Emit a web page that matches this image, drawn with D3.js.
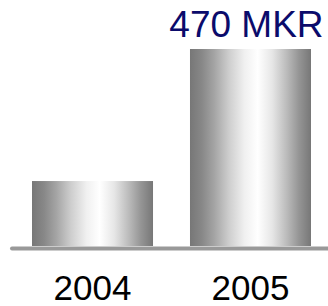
<!DOCTYPE html>
<html>
<head>
<meta charset="utf-8">
<script src="https://cdn.jsdelivr.net/npm/d3@7"></script>
<style>
  body { margin: 0; background: #fff; }
  svg { display: block; font-family: Arial, "Liberation Sans", sans-serif; }
</style>
</head>
<body>
<div id="graphic"></div>
<script>
// Chart data
var years = ['2004', '2005'];
var values = [155, 470];
var valueLabels = ['', '470 MKR'];

var width = 328,
    height = 306;

var margins = { top: 49, right: 17, bottom: 60, left: 32 };
var baseY = height - margins.bottom; // 246

var svg = d3.select('#graphic').append('svg')
    .attr('width', width)
    .attr('height', height);

// cylinder-like shading
var grad = svg.append('defs').append('linearGradient')
    .attr('id', 'barShade')
    .attr('x1', '0%').attr('x2', '100%')
    .attr('y1', '0%').attr('y2', '0%');

var stops = [
    [0, '#777777'], [0.1, '#888888'], [0.2, '#a4a4a4'], [0.32, '#cdcdcd'],
    [0.45, '#f0f0f0'], [0.56, '#ffffff'], [0.68, '#e6e6e6'], [0.8, '#bbbbbb'],
    [0.9, '#959595'], [1, '#777777']
];
grad.selectAll('stop')
    .data(stops)
    .enter().append('stop')
    .attr('offset', function(d) { return d[0]; })
    .attr('stop-color', function(d) { return d[1]; });

var x = d3.scaleBand()
    .domain(years)
    .range([margins.left, width - margins.right])
    .paddingInner(0.234)
    .paddingOuter(0);

var y = d3.scaleLinear()
    .domain([0, d3.max(values)])
    .range([baseY, margins.top]);

// baseline
svg.append('line')
    .attr('x1', 12)
    .attr('x2', width + 4)
    .attr('y1', baseY + 2.5)
    .attr('y2', baseY + 2.5)
    .attr('stroke', '#999999')
    .attr('stroke-width', 4)
    .attr('stroke-linecap', 'round');

// bars
svg.selectAll('rect.bar')
    .data(values)
    .enter().append('rect')
    .attr('class', 'bar')
    .attr('x', function(d, i) { return x(years[i]); })
    .attr('width', x.bandwidth())
    .attr('y', function(d) { return y(d); })
    .attr('height', function(d) { return baseY - y(d); })
    .attr('fill', 'url(#barShade)');

// value label
svg.selectAll('text.value')
    .data(values)
    .enter().append('text')
    .attr('class', 'value')
    .attr('x', function(d, i) { return x(years[i]) + x.bandwidth() / 2 - 4; })
    .attr('y', function(d) { return y(d) - 12; })
    .attr('text-anchor', 'middle')
    .attr('fill', '#0b0b6b')
    .style('font-size', '37px')
    .text(function(d, i) { return valueLabels[i]; });

// category axis
var xAxis = svg.append('g')
    .attr('transform', 'translate(0,' + baseY + ')')
    .call(d3.axisBottom(x).tickSize(0).tickPadding(29));

xAxis.select('.domain').remove();
xAxis.selectAll('text')
    .attr('dy', '0.71em')
    .attr('fill', '#000')
    .style('font-size', '35px')
    .style('font-family', 'Arial, "Liberation Sans", sans-serif');
</script>
</body>
</html>
